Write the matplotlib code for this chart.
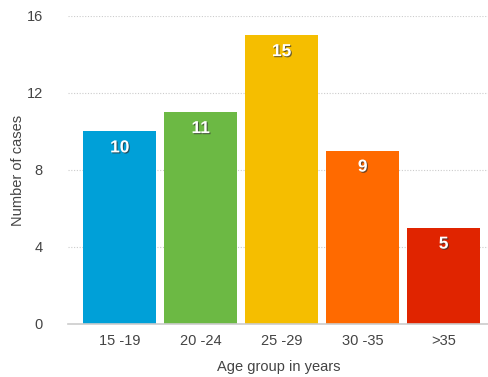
import matplotlib
matplotlib.use('Agg')
import matplotlib.pyplot as plt
import matplotlib.patheffects as pe

# data
age_groups = ['15 -19', '20 -24', '25 -29', '30 -35', '>35']
cases = [10, 11, 15, 9, 5]
colors = ['#00a0d8', '#6cb944', '#f5be00', '#ff6a00', '#e02400']

plt.rcParams['font.family'] = ['Liberation Sans', 'DejaVu Sans']

fig = plt.figure(figsize=(4.89, 3.77), dpi=100)
ax = fig.add_axes([0.139, 0.1406, 0.861, 0.817])

x = range(len(age_groups))
bars = ax.bar(x, cases, width=0.9, color=colors, zorder=2)

for b, v in zip(bars, cases):
    ax.text(b.get_x() + b.get_width() / 2, v - 0.85, str(v), ha='center', va='center',
            color='white', fontsize=12.5, fontweight='bold', zorder=3,
            path_effects=[pe.withSimplePatchShadow(offset=(0.8, -0.8), shadow_rgbFace='#333333', alpha=0.7)])

ax.set_xlim(-0.64, 4.56)
ax.set_ylim(0, 16)
ax.set_yticks([0, 4, 8, 12, 16])
ax.set_xticks(list(x))
ax.set_xticklabels(age_groups)
ax.yaxis.grid(True, linestyle=(0, (1, 1.5)), color='#cccccc', linewidth=0.8, zorder=0)
ax.set_axisbelow(True)

for s in ['top', 'right', 'left']:
    ax.spines[s].set_visible(False)
ax.spines['bottom'].set_color('#cccccc')
ax.spines['bottom'].set_linewidth(1.2)
ax.tick_params(axis='both', length=0, labelsize=10.5, colors='#444444')
ax.tick_params(axis='y', pad=18)
ax.tick_params(axis='x', pad=7)

ax.set_ylabel('Number of cases', fontsize=10.5, color='#444444', labelpad=1)
ax.set_xlabel('Age group in years', fontsize=10.5, color='#444444', labelpad=9)

plt.savefig('out.png', dpi=100)
